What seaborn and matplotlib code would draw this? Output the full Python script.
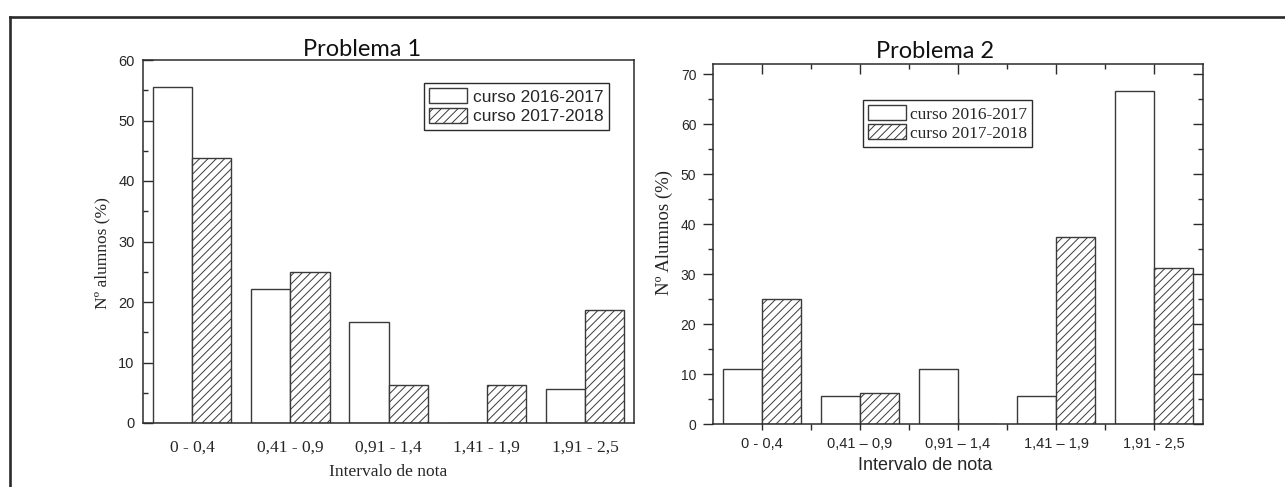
import numpy as np
import pandas as pd
import matplotlib
matplotlib.use("Agg")
import matplotlib.pyplot as plt
from matplotlib.lines import Line2D
import seaborn as sns

# ---- data -------------------------------------------------------------
cursos = ["curso 2016-2017", "curso 2017-2018"]

intervalos_p1 = ["0 - 0,4", "0,41 - 0,9", "0,91 - 1,4", "1,41 - 1,9", "1,91 - 2,5"]
p1_2016 = [55.6, 22.2, 16.7, 0.0, 5.6]
p1_2017 = [43.75, 25.0, 6.25, 6.25, 18.75]

intervalos_p2 = ["0 - 0,4", "0,41 \u2013 0,9", "0,91 \u2013 1,4", "1,41 \u2013 1,9", "1,91 - 2,5"]
p2_2016 = [11.1, 5.6, 11.1, 5.6, 66.7]
p2_2017 = [25.0, 6.25, 0.0, 37.5, 31.25]

sns.set_style("ticks")
plt.rcParams["font.family"] = ["Liberation Sans", "DejaVu Sans"]
plt.rcParams["hatch.linewidth"] = 0.7
plt.rcParams["hatch.color"] = "#222222"

EDGE = "#3a3a3a"
SPINE = "#2b2b2b"
SERIF = ["Liberation Serif", "DejaVu Serif"]
SANS = ["Liberation Sans", "DejaVu Sans"]
TITLE = ["Lato", "DejaVu Sans"]


def long_frame(cats, a, b):
    return pd.DataFrame({
        "intervalo": cats * 2,
        "pct": list(a) + list(b),
        "curso": [cursos[0]] * len(cats) + [cursos[1]] * len(cats),
    })


def draw_bars(ax, df, cats):
    sns.barplot(data=df, x="intervalo", y="pct", hue="curso", order=cats,
                hue_order=cursos, palette=["white", "white"], saturation=1,
                edgecolor=EDGE, linewidth=1.0, legend=False, ax=ax, width=0.8)
    for p in ax.containers[1]:
        p.set_hatch("////")
    ax.set_xlim(-0.5, 4.5)
    for s in ax.spines.values():
        s.set_visible(True)
        s.set_linewidth(1.1)
        s.set_color(SPINE)


fig = plt.figure(figsize=(12.85, 4.87), dpi=100)
W, H = 1285, 487

def axes_px(l, t, r, b):
    return fig.add_axes([l / W, 1 - b / H, (r - l) / W, (b - t) / H])

# ---- Problema 1 ---------------------------------------------------------
ax1 = axes_px(143, 60, 634, 423)
draw_bars(ax1, long_frame(intervalos_p1, p1_2016, p1_2017), intervalos_p1)
ax1.set_ylim(0, 60)
ax1.set_yticks(np.arange(0, 61, 10))
ax1.set_yticks(np.arange(5, 60, 10), minor=True)
ax1.tick_params(axis="y", which="major", direction="in", length=7, width=1.0,
                color=SPINE, pad=6, labelsize=10.5)
ax1.tick_params(axis="y", which="minor", direction="in", length=3.5, width=1.0,
                color=SPINE)
ax1.tick_params(axis="x", length=0, pad=12)
for t in ax1.get_xticklabels():
    t.set_fontfamily(SERIF)
    t.set_fontsize(12.5)
ax1.set_xlabel("Intervalo de nota", fontfamily=SERIF, fontsize=12.5)
ax1.xaxis.set_label_coords(0.499, -0.135)
ax1.xaxis.label.set_verticalalignment("center")
ax1.set_ylabel("N\u00ba alumnos (%)", fontfamily=SERIF, fontsize=12.5)
ax1.yaxis.set_label_coords(-0.0835, 0.468)
ax1.yaxis.label.set_verticalalignment("center")
leg1 = ax1.legend(handles=[ax1.containers[0][0], ax1.containers[1][0]],
                  labels=cursos, loc="upper right", bbox_to_anchor=(0.949, 0.937),
                  borderaxespad=0, frameon=True, fancybox=False, edgecolor=SPINE,
                  framealpha=1, prop={"family": SANS, "size": 12.5},
                  handlelength=2.2, handleheight=0.95, handletextpad=0.35,
                  labelspacing=0.2, borderpad=0.3)
leg1.get_frame().set_linewidth(1.0)

# ---- Problema 2 ---------------------------------------------------------
ax2 = axes_px(713, 64, 1203, 424)
draw_bars(ax2, long_frame(intervalos_p2, p2_2016, p2_2017), intervalos_p2)
ax2.set_ylim(0, 72)
ax2.set_yticks(np.arange(0, 71, 10))
ax2.set_yticks(np.arange(5, 71, 10), minor=True)
ax2.set_xticks(np.arange(0.5, 4, 1), minor=True)
ax2.tick_params(axis="y", which="major", direction="out", length=7, width=1.0,
                color=SPINE, pad=5, labelsize=10)
ax2.tick_params(axis="y", which="minor", direction="out", length=3.5, width=1.0,
                color=SPINE)
ax2.tick_params(axis="x", which="major", direction="inout", length=8, width=1.0,
                color=SPINE, pad=5, labelsize=10.5)
ax2.tick_params(axis="x", which="minor", direction="out", length=4, width=1.0,
                color=SPINE)
ax2.set_xlabel("Intervalo de nota", fontfamily=SANS, fontsize=13)
ax2.xaxis.set_label_coords(0.433, -0.116)
ax2.xaxis.label.set_verticalalignment("center")
ax2.set_ylabel("N\u00ba Alumnos (%)", fontfamily=SERIF, fontsize=13.5)
ax2.yaxis.set_label_coords(-0.1, 0.533)
ax2.yaxis.label.set_verticalalignment("center")

top = ax2.secondary_xaxis("top")
top.set_xticks(np.arange(0, 5, 1))
top.set_xticks(np.arange(0.5, 4, 1), minor=True)
top.tick_params(which="major", direction="in", length=7, width=1.0, color=SPINE,
                labeltop=False)
top.tick_params(which="minor", direction="in", length=3.5, width=1.0, color=SPINE)
top.spines["top"].set_visible(False)

right = ax2.secondary_yaxis("right")
right.set_yticks(np.arange(0, 71, 10))
right.set_yticks(np.arange(5, 71, 10), minor=True)
right.tick_params(which="major", direction="in", length=7, width=1.0, color=SPINE,
                  labelright=False)
right.tick_params(which="minor", direction="in", length=3.5, width=1.0, color=SPINE)
right.spines["right"].set_visible(False)

leg2 = ax2.legend(handles=[ax2.containers[0][0], ax2.containers[1][0]],
                  labels=cursos, loc="upper left", bbox_to_anchor=(0.306, 0.9),
                  borderaxespad=0, frameon=True, fancybox=False, edgecolor=SPINE,
                  framealpha=1, prop={"family": SERIF, "size": 12.5},
                  handlelength=2.2, handleheight=0.95, handletextpad=0.2,
                  labelspacing=0.1, borderpad=0.3)
leg2.get_frame().set_linewidth(1.0)

# ---- titles -------------------------------------------------------------
fig.text(362 / W, 1 - 56 / H, "Problema 1", ha="center", va="baseline",
         fontfamily=TITLE, fontsize=17, color="#111111")
fig.text(935 / W, 1 - 58 / H, "Problema 2", ha="center", va="baseline",
         fontfamily=TITLE, fontsize=17, color="#111111")

# ---- outer frame --------------------------------------------------------
fig.add_artist(Line2D([10 / W, 10 / W], [0, 1 - 17 / H], transform=fig.transFigure,
                      color="#2a2a2a", linewidth=1.9, solid_capstyle="projecting"))
fig.add_artist(Line2D([10 / W, 1], [1 - 17 / H, 1 - 17 / H], transform=fig.transFigure,
                      color="#2a2a2a", linewidth=1.9, solid_capstyle="projecting"))

fig.savefig("out.png", dpi=100, facecolor="white")
